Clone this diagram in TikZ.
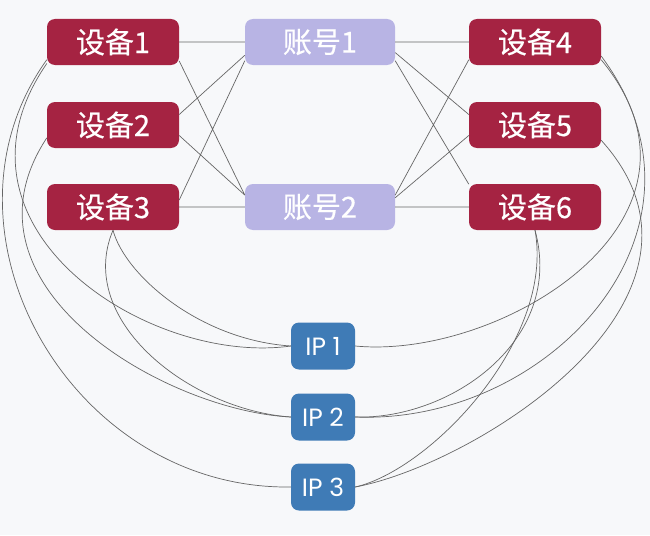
\documentclass[tikz,border=0pt]{standalone}
\usepackage{fontspec}
\setmainfont{Noto Sans CJK SC}[FakeBold=0.5]
\newfontfamily\ipfont{Poppins}
\definecolor{devred}{HTML}{A52342}
\definecolor{acclav}{HTML}{B8B4E4}
\definecolor{ipblue}{HTML}{3F7BB6}
\definecolor{bgcol}{HTML}{F7F8FA}
\definecolor{edgegray}{HTML}{666666}
\begin{document}
\begin{tikzpicture}[x=1pt,y=1pt,
  box/.style={rounded corners=8pt,text=white,inner sep=0pt,minimum height=46pt,font=\fontsize{29}{33}\selectfont},
  dev/.style={box,fill=devred,minimum width=132pt},
  acct/.style={box,fill=acclav,minimum width=150pt},
  ip/.style={box,fill=ipblue,minimum width=64pt,minimum height=47pt,font=\ipfont\fontsize{25}{29}\selectfont},
  link/.style={draw=edgegray,line width=0.7pt}]
\useasboundingbox (0,0) rectangle (650,-535);
\fill[bgcol] (0,0) rectangle (650,-535);
\node[dev] (d1) at (113,-42) {设备1}; \node[dev] (d2) at (113,-125) {设备2}; \node[dev] (d3) at (113,-207) {设备3};
\node[acct] (a1) at (320,-42) {账号1}; \node[acct] (a2) at (320,-207) {账号2};
\node[dev] (d4) at (535,-42) {设备4}; \node[dev] (d5) at (535,-125) {设备5}; \node[dev] (d6) at (535,-207) {设备6};
\node[ip] (ip1) at (323,-346) {IP 1}; \node[ip] (ip2) at (323,-417) {IP 2}; \node[ip] (ip3) at (323,-487) {IP 3};
\draw[link] (d1.east) -- (a1.west) (d1.-16) -- (a2.171) (d2.9) -- (a1.190) (d2.-9) -- (a2.171) (d3.6) -- (a1.194) (d3.east) -- (a2.west);
\draw[link] (a1.east) -- (d4.west) (a1.-8) -- (d5.171) (a1.-14) -- (d6.161) (a2.9) -- (d4.195) (a2.7) -- (d5.189) (a2.east) -- (d6.west);
\draw[link] (d1.198) .. controls +(-113,-164) and +(-142,-20) .. (ip1.west);
\draw[link] (d1.195) .. controls +(-122,-170) and +(-221,-3) .. (ip3.west);
\draw[link] (d2.191) .. controls +(-98,-149) and +(-124,6) .. (ip2.west);
\draw[link] (d3.south) .. controls +(12,-45) and +(-91,6) .. (ip1.west);
\draw[link] (d3.south) .. controls +(-38,-90) and +(-101,7) .. (ip2.west);
\draw[link] (d4.-15) .. controls +(132,-160) and +(145,-14) .. (ip1.east);
\draw[link] (d4.-12) .. controls +(129,-173) and +(195,-8) .. (ip2.east);
\draw[link] (d5.-13) .. controls +(142,-157) and +(122,23) .. (ip3.east);
\draw[link] (d6.south) .. controls +(30,-110) and +(95,-3) .. (ip2.east);
\draw[link] (d6.south) .. controls +(20,-110) and +(75,17) .. (ip3.east);
\end{tikzpicture}
\end{document}
